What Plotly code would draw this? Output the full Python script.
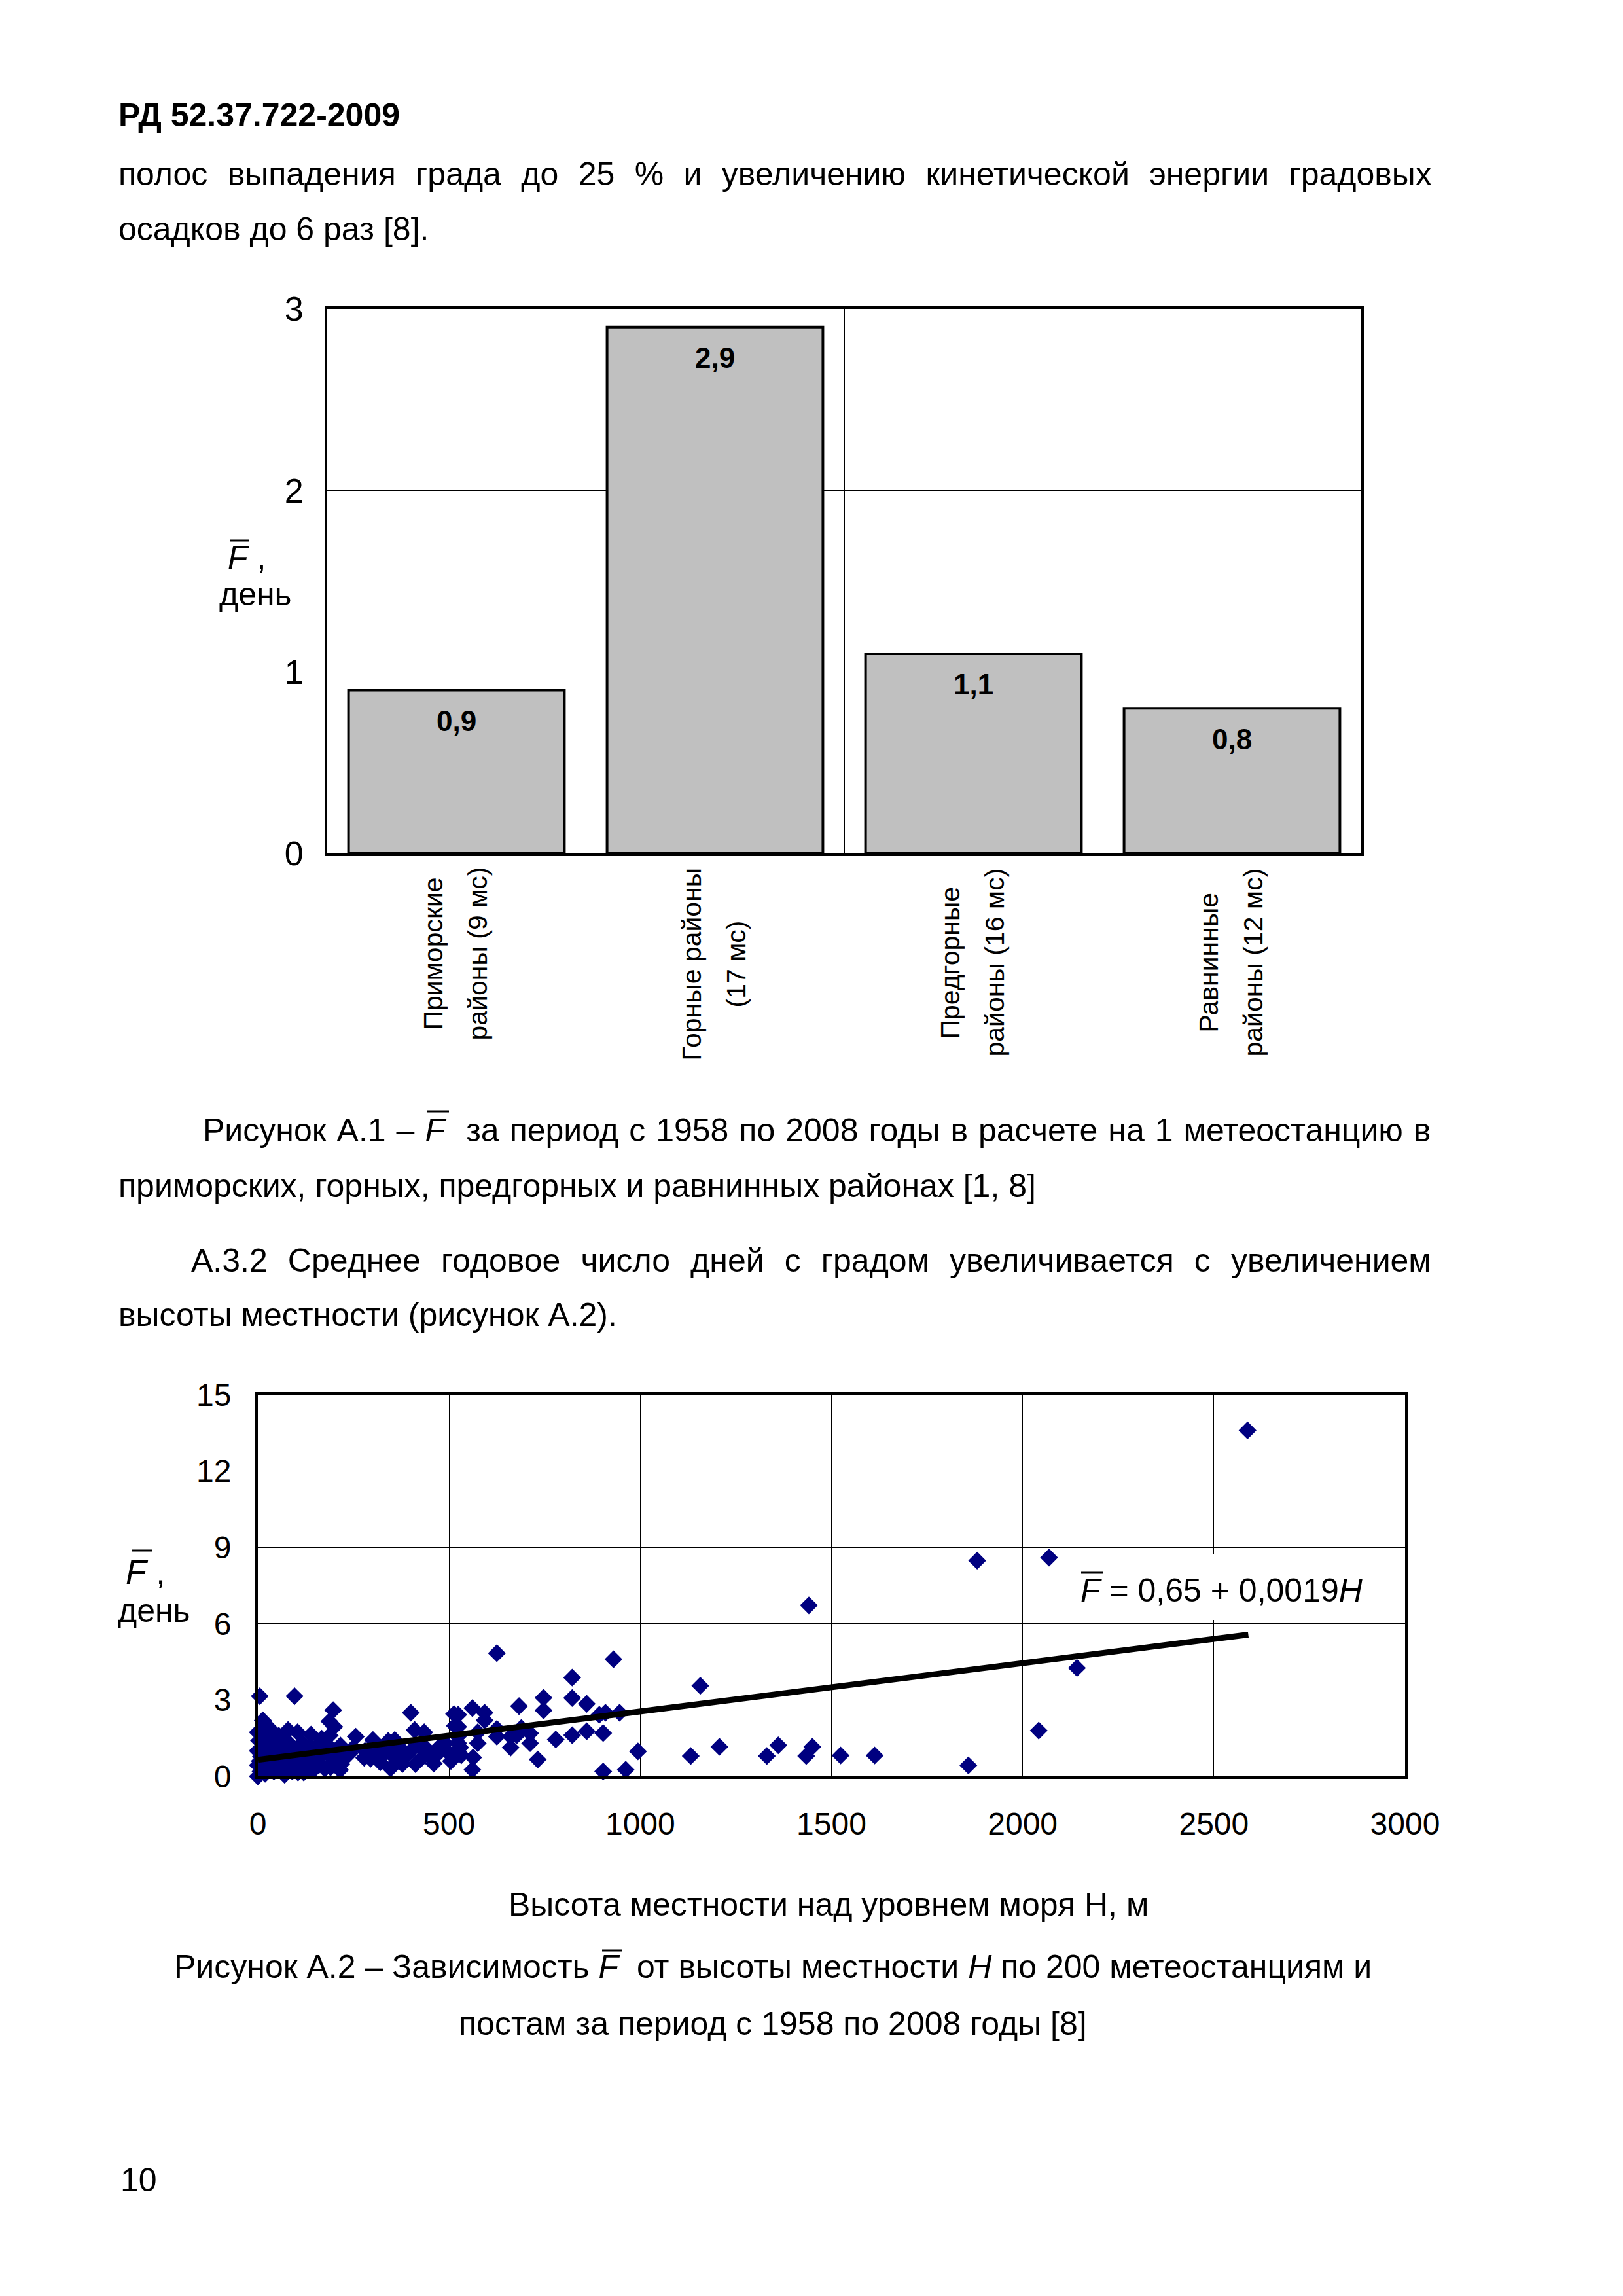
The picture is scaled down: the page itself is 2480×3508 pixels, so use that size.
import plotly.graph_objects as go

# ------------------------------------------------------------------ data
bar_categories = ["Приморские районы (9 мс)", "Горные районы (17 мс)",
                  "Предгорные районы (16 мс)", "Равнинные районы (12 мс)"]
bar_label_lines = [["Приморские", "районы (9 мс)"], ["Горные районы", "(17 мс)"],
                   ["Предгорные", "районы (16 мс)"], ["Равнинные", "районы (12 мс)"]]
bar_values = [0.9, 2.9, 1.1, 0.8]
bar_yticks = [0, 1, 2, 3]

station_height = [2588, 1881, 2069, 1441, 2142, 1157, 2042, 994, 1132, 1207, 1331, 1361, 1434, 1450,
                  1524, 1613, 1858, 903, 962,
                  625, 930, 822, 747, 822, 860, 747, 683, 561, 593, 593, 524, 524, 893, 909, 946,
                  625, 689, 625, 661, 677, 712, 575, 575, 661, 712, 779, 822, 860, 903, 524, 532,
                  563, 561, 732,
                  5, 96, 197, 400, 513, 13, 187, 200, 79, 104, 139, 0, 36, 167, 188, 256, 301, 341,
                  358, 410, 435, 515, 475, 523, 529, 216, 184, 247, 278, 295, 326, 347, 378, 389,
                  412, 429, 458, 475, 218, 196, 155, 133, 99, 70, 42, 7, 2, 8, 19, 48, 70, 99, 116,
                  144, 59, 30, 87, 122, 0, 0, 19, 179, 156, 127,
                  3, 10, 25, 15, 50, 60, 80, 110, 90, 120, 140, 160, 175, 200, 240, 280, 310, 320,
                  340, 360, 370, 400, 420, 440, 460, 490, 500, 505, 30, 55, 10, 0, 5, 20, 40, 65,
                  85, 110, 135, 150, 170, 210, 225, 45, 35, 75, 95, 105, 125, 145, 160, 190, 215]
station_days = [13.6, 8.48, 8.6, 6.72, 4.26, 3.56, 1.8, 0.98, 0.8, 1.16, 0.8, 1.22, 0.8, 1.16,
                0.82, 0.82, 0.43, 0.19, 0.26,
                4.84, 4.6, 3.88, 3.09, 3.08, 2.85, 2.59, 2.76, 2.68, 2.5, 2.2, 2.42, 1.95, 2.42, 2.5, 2.5,
                1.86, 1.9, 1.56, 1.56, 1.61, 1.69, 1.73, 1.3, 1.13, 1.3, 1.45, 1.62, 1.77, 1.7, 1.3, 0.83,
                0.74, 0.26, 0.66,
                3.15, 3.15, 2.6, 2.5, 2.45, 2.2, 2.16, 1.95, 1.82, 1.73, 1.64, 1.73, 1.56, 1.48, 1.61, 1.56,
                1.43, 1.39, 1.43, 1.82, 1.73, 1.99, 1.17, 1.56, 1.13, 1.21, 1.21, 1.08, 0.73, 0.69, 0.83,
                0.31, 0.48, 0.83, 0.48, 0.73, 0.73, 0.95, 0.48, 0.57, 0.48, 0.31, 0.36, 0.06, 0.19, 0.19,
                1.04, 0.78, 1.21, 1.3, 1.13, 1.04, 1.3, 0.87, 0.61, 0.44, 0.61, 0.69, 0.44, 0.0, 0.1,
                0.95, 1.21, 1.04,
                1.4, 0.9, 0.85, 0.6, 0.9, 0.3, 0.85, 0.5, 0.2, 0.15, 0.6, 0.75, 0.3, 0.8, 0.9, 1.0, 1.1,
                0.55, 1.0, 0.7, 1.15, 1.0, 1.2, 1.1, 0.5, 1.3, 0.9, 0.6, 1.9, 1.6, 1.6, 1.0, 0.6, 1.4,
                1.1, 1.45, 1.25, 0.95, 1.1, 0.95, 1.1, 1.0, 0.7, 0.35, 0.75, 0.45, 0.75, 0.15, 0.45,
                0.25, 0.45, 0.35, 0.25]
trend_intercept = 0.65
trend_slope = 0.0019
trend_h = [0, 2590]
scatter_xticks = [0, 500, 1000, 1500, 2000, 2500, 3000]
scatter_yticks = [0, 3, 6, 9, 12, 15]

# ------------------------------------------------------------------ helpers
W, H = 2480, 3508
FONT = "Liberation Sans"


def px(x):
    return x / W


def py(y):
    return 1 - y / H


annotations = []
shapes = []


def text(x, y, s, size=50, xanchor="left", weight="normal", **kw):
    annotations.append(dict(x=px(x), y=py(y), xref="paper", yref="paper", text=s,
                            showarrow=False, xanchor=xanchor, yanchor="middle",
                            font=dict(family=FONT, size=size, color="black", weight=weight), **kw))


def overline(x0, x1, y, w=3):
    shapes.append(dict(type="line", xref="paper", yref="paper", x0=px(x0), x1=px(x1),
                       y0=py(y), y1=py(y), layer="above", line=dict(color="black", width=w)))


# ------------------------------------------------------------------ page text
text(179, 176, "РД 52.37.722-2009", size=50, weight="bold")
text(179, 266, '<span style="word-spacing:16.5px">полос выпадения града до 25 % и увеличению '
               'кинетической энергии градовых</span>')
text(179, 350, "осадков до 6 раз [8].")

text(308, 1727, '<span style="word-spacing:2.1px">Рисунок А.1 – <i>F</i>\u00a0 за период с 1958 '
                'по 2008 годы в расчете на 1 метеостанцию в</span>')
overline(652, 686, 1698)
text(179, 1812, "приморских, горных, предгорных и равнинных районах [1, 8]")
text(290, 1926, '<span style="word-spacing:17.2px">А.3.2 Среднее годовое число дней с градом '
               'увеличивается с увеличением</span>')
text(179, 2009, "высоты местности (рисунок А.2).")

text(1266, 2910, "Высота местности над уровнем моря Н, м", xanchor="center")
text(1181, 3005, "Рисунок А.2 – Зависимость <i>F</i>\u00a0 от высоты местности <i>H</i> по 200 "
                 "метеостанциям и", xanchor="center")
overline(920, 950, 2980)
text(1181, 3092, "постам за период с 1958 по 2008 годы [8]", xanchor="center")
text(182, 3331, "10")

# ------------------------------------------------------------------ bar chart
fig = go.Figure()
fig.add_trace(go.Bar(x=bar_categories, y=bar_values, xaxis="x", yaxis="y",
                     marker=dict(color="#C0C0C0", line=dict(color="black", width=4)),
                     hoverinfo="skip"))

for cat, v in zip(bar_categories, bar_values):
    annotations.append(dict(x=cat, y=v, xref="x", yref="y", yshift=-47, showarrow=False,
                            text=f"{v:.1f}".replace(".", ","), xanchor="center", yanchor="middle",
                            font=dict(family=FONT, size=44, color="black", weight="bold")))

label_centers = [1457, 1473, 1471, 1471]
for cat, lines, yc in zip(bar_categories, bar_label_lines, label_centers):
    for line, dx in zip(lines, [-36, 32]):
        annotations.append(dict(x=cat, y=py(yc), xref="x", yref="paper", xshift=dx,
                                showarrow=False, text=line, textangle=-90,
                                xanchor="center", yanchor="middle",
                                font=dict(family=FONT, size=41, color="black")))

text(346, 852, "<i>F</i> ,", size=50)
overline(352, 380, 826)
text(390, 908, "день", xanchor="center")

# ------------------------------------------------------------------ scatter chart
fig.add_trace(go.Scatter(x=station_height, y=station_days, xaxis="x2", yaxis="y2", mode="markers",
                         marker=dict(symbol="diamond", size=21, color="#000080", line=dict(width=0)),
                         cliponaxis=False, hoverinfo="skip"))
fig.add_trace(go.Scatter(x=trend_h, y=[trend_intercept + trend_slope * h for h in trend_h],
                         xaxis="x2", yaxis="y2", mode="lines",
                         line=dict(color="black", width=9), cliponaxis=False, hoverinfo="skip"))

# white label box for the regression equation (drawn above the grid), then its overline
shapes.append(dict(type="rect", xref="paper", yref="paper", x0=px(1628), x1=px(2100),
                   y0=py(2475), y1=py(2375), layer="above", fillcolor="white",
                   line=dict(width=0)))
eq = (f"<i>F</i> = {trend_intercept:.2f} + {trend_slope:.4f}<i>H</i>").replace(".", ",")
text(1649, 2430, eq)
overline(1652, 1686, 2403)

text(190, 2402, "<i>F</i> ,", size=52)
overline(201, 233, 2369)
text(235, 2461, "день", xanchor="center")

axis_common = dict(showline=True, linecolor="black", linewidth=4, mirror=True,
                   showgrid=True, gridcolor="black", gridwidth=1, zeroline=False, ticks="",
                   fixedrange=True, automargin=False)

fig.update_layout(
    width=W, height=H, autosize=False,
    margin=dict(l=0, r=0, t=0, b=0, pad=0, autoexpand=False),
    paper_bgcolor="white", plot_bgcolor="white",
    showlegend=False, bargap=0.165,
    font=dict(family=FONT, color="black"),
    xaxis=dict(domain=[px(500), px(2080)], anchor="y", type="category", range=[-0.5, 3.5],
               tickson="boundaries", showticklabels=False, **axis_common),
    yaxis=dict(domain=[py(1304), py(472)], anchor="x", range=[0, 3], tickvals=bar_yticks,
               tickfont=dict(family=FONT, size=52, color="black"), ticklabelstandoff=22,
               **axis_common),
    xaxis2=dict(domain=[px(394), px(2147)], anchor="y2", range=[0, 3000], tickvals=scatter_xticks,
                tickfont=dict(family=FONT, size=48, color="black"), ticklabelstandoff=27,
                **axis_common),
    yaxis2=dict(domain=[py(2714), py(2131)], anchor="x2", range=[0, 15], tickvals=scatter_yticks,
                tickfont=dict(family=FONT, size=48, color="black"), ticklabelstandoff=27,
                **axis_common),
    annotations=annotations,
    shapes=shapes,
)

fig.write_html("out.html", config={"responsive": False, "displayModeBar": False},
               post_script="document.body.style.margin='0';document.body.style.overflow='hidden';")
